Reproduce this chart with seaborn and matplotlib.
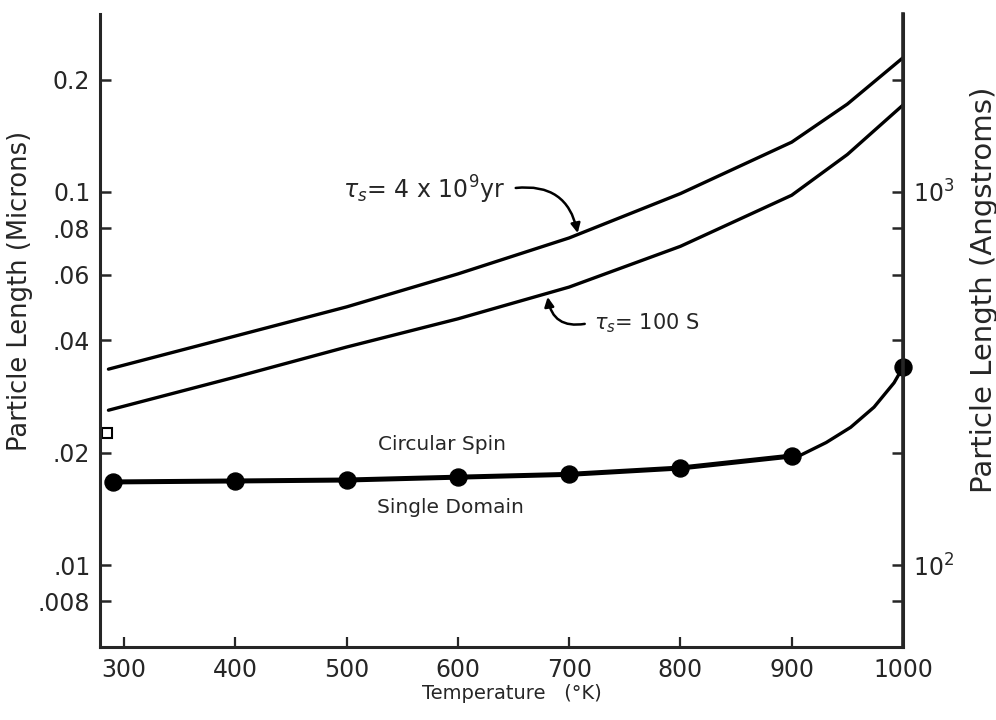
import pandas as pd
import numpy as np
import seaborn as sns
import matplotlib.pyplot as plt
from matplotlib.ticker import FixedLocator, NullLocator, FixedFormatter

# values (temperature in K, length in microns)
temp_upper = [286, 400, 500, 600, 700, 800, 900, 950, 1000]
len_upper = [0.0335, 0.0411, 0.0492, 0.0603, 0.0753, 0.099, 0.136, 0.172, 0.229]   # tau = 4x10^9 yr

temp_lower = [286, 400, 500, 600, 700, 800, 900, 950, 1000]
len_lower = [0.0260, 0.0319, 0.0384, 0.0457, 0.0556, 0.0715, 0.098, 0.126, 0.171]  # tau = 100 s

temp_dots = [290, 400, 500, 600, 700, 800, 900, 1000]
len_dots = [0.0167, 0.0168, 0.0169, 0.0172, 0.0175, 0.0182, 0.0196, 0.0339]

temp_rise = [900, 908, 931, 953, 974, 992, 1000]
len_rise = [0.0196, 0.0197, 0.0213, 0.0234, 0.0265, 0.0308, 0.0339]

yticks = [0.008, 0.01, 0.02, 0.04, 0.06, 0.08, 0.1, 0.2]
ytick_labels = [".008", ".01", ".02", ".04", ".06", ".08", "0.1", "0.2"]
xticks = [300, 400, 500, 600, 700, 800, 900, 1000]
ang_ticks = [80, 100, 200, 400, 600, 800, 1000, 2000]
ang_labels = ["", r"$10^2$", "", "", "", "", r"$10^3$", ""]

sns.set_style("ticks")
plt.rcParams['font.family'] = ['DejaVu Sans']
plt.rcParams['xtick.direction'] = 'in'
plt.rcParams['ytick.direction'] = 'in'

fig = plt.figure(figsize=(9.96, 7.2), dpi=100)
ax = fig.add_axes([0.1004, 0.1014, 0.8062, 0.8792])

df_up = pd.DataFrame({"T": temp_upper, "L": len_upper})
df_lo = pd.DataFrame({"T": temp_lower, "L": len_lower})
df_dot = pd.DataFrame({"T": temp_dots, "L": len_dots})
df_rise = pd.DataFrame({"T": temp_rise, "L": len_rise})

sns.lineplot(data=df_up, x="T", y="L", color="black", lw=2.4, ax=ax)
sns.lineplot(data=df_lo, x="T", y="L", color="black", lw=2.4, ax=ax)
sns.lineplot(data=df_dot[df_dot["T"] <= 900], x="T", y="L", color="black", lw=3.6, ax=ax)
sns.lineplot(data=df_rise, x="T", y="L", color="black", lw=2.4, ax=ax)
sns.scatterplot(data=df_dot, x="T", y="L", color="black", s=150, edgecolor="black",
                zorder=5, clip_on=False, ax=ax)
# small open square near the left axis
ax.plot([285], [0.0226], marker="s", ms=7, mfc="white", mec="black", mew=1.5, clip_on=False)

ax.set_yscale("log")
ax.set_xlim(278.4, 1000)
ax.set_ylim(0.00603, 0.300)

ax.yaxis.set_major_locator(FixedLocator(yticks))
ax.yaxis.set_major_formatter(FixedFormatter(ytick_labels))
ax.yaxis.set_minor_locator(NullLocator())
ax.set_xticks(xticks)
ax.set_xticklabels([str(t) for t in xticks])

ax.tick_params(axis="y", which="both", direction="in", length=8, width=1.8, labelsize=17, pad=7,
               left=True, right=False)
ax.tick_params(axis="x", which="both", direction="in", length=7, width=1.6, labelsize=17, pad=8,
               top=False)

for s in ["left", "bottom", "right"]:
    ax.spines[s].set_linewidth(2.2)
ax.spines["top"].set_visible(False)

ax.set_xlabel("Temperature   (°K)", fontsize=14)
ax.set_ylabel("Particle Length (Microns)", fontsize=18.5)
ax.xaxis.set_label_coords(0.513, -0.058)
ax.yaxis.set_label_coords(-0.083, 0.562)

# right axis in Angstroms
ax2 = ax.twinx()
ax2.set_yscale("log")
ax2.set_ylim(0.00603 * 1e4, 0.300 * 1e4)
ax2.yaxis.set_major_locator(FixedLocator(ang_ticks))
ax2.yaxis.set_major_formatter(FixedFormatter(ang_labels))
ax2.yaxis.set_minor_locator(NullLocator())
ax2.tick_params(axis="y", which="both", direction="in", length=8, width=1.8, labelsize=17, pad=7,
                left=False, right=True)
for s in ["left", "bottom", "top"]:
    ax2.spines[s].set_visible(False)
ax2.spines["right"].set_linewidth(2.6)
ax2.set_ylabel("Particle Length (Angstroms)", fontsize=21)
ax2.yaxis.set_label_coords(1.0834, 0.564)

# curve labels with curved arrows
ax.text(497, 0.1012, r"$\tau_s$= 4 x 10$^9$yr", fontsize=17, va="center", ha="left")
ax.annotate("", xy=(707.7, 0.0776), xytext=(652, 0.1025),
            arrowprops=dict(arrowstyle="-|>", color="black", lw=1.8, mutation_scale=14,
                            shrinkA=0, shrinkB=0, connectionstyle="arc3,rad=-0.45"))
ax.text(722, 0.0445, r"$\tau_s$= 100 S", fontsize=15, va="center", ha="left")
ax.annotate("", xy=(680.7, 0.0523), xytext=(714, 0.0443),
            arrowprops=dict(arrowstyle="-|>", color="black", lw=1.8, mutation_scale=14,
                            shrinkA=0, shrinkB=0, connectionstyle="arc3,rad=-0.5"))
ax.text(586, 0.0210, "Circular Spin", fontsize=14.5, ha="center", va="center")
ax.text(593, 0.01428, "Single Domain", fontsize=14.5, ha="center", va="center")

fig.savefig("out.png", dpi=100)
